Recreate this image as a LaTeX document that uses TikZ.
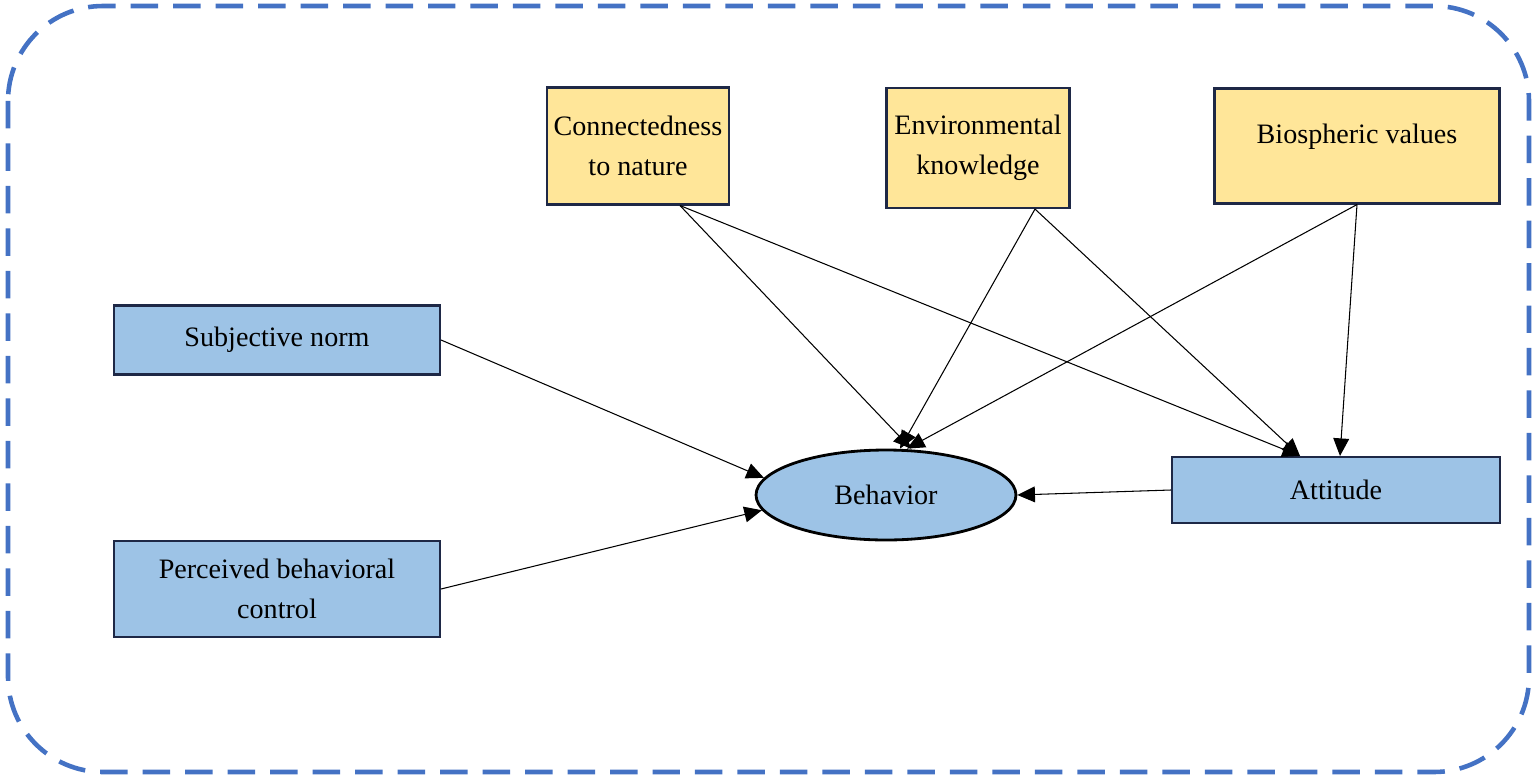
\documentclass[tikz,border=0pt]{standalone}
\usepackage{fontspec}
\setmainfont{Liberation Serif}
\usetikzlibrary{shapes.geometric,arrows.meta}
\definecolor{frameblue}{RGB}{68,114,196}
\definecolor{boxblue}{RGB}{157,195,230}
\definecolor{boxyellow}{RGB}{255,230,153}
\definecolor{edge}{RGB}{30,40,70}
\tikzstyle{ybox}=[fill=boxyellow, draw=edge, line width=1.2pt, shape=rectangle, align=center, font=\fontsize{16}{23}\selectfont]
\tikzstyle{bbox}=[fill=boxblue, draw=edge, line width=1.2pt, shape=rectangle, align=center, font=\fontsize{16}{23}\selectfont]
\tikzstyle{arr}=[-{Triangle[length=10pt,width=9pt]}, line width=0.6pt]

\begin{document}
\begin{tikzpicture}[x=0.02cm,y=-0.02cm]
		\useasboundingbox (0,0) rectangle (1535,778);
		\draw [frameblue, line width=2.6pt, dash pattern=on 0.55cm off 0.3cm, rounded corners=1.9cm] (8,6) rectangle (1529,772);

		\node [style=ybox, minimum width=3.64cm, minimum height=2.34cm] (conn) at (638,146) {Connectedness\\to nature};
		\node [style=ybox, minimum width=3.66cm, minimum height=2.4cm] (env) at (978,148) {Environmental\\knowledge};
		\node [style=ybox, minimum width=5.7cm, minimum height=2.3cm] (bio) at (1357,146) {Biospheric values\\[-0.3cm]\mbox{}};
		\node [style=bbox, minimum width=6.52cm, minimum height=1.38cm] (sub) at (277,340) {Subjective norm};
		\node [style=bbox, minimum width=6.52cm, minimum height=1.92cm] (pbc) at (277,589) {Perceived behavioral\\control};
		\node [style=bbox, minimum width=6.56cm, minimum height=1.32cm] (att) at (1336,490) {Attitude};
		\node [fill=boxblue, draw=black, line width=1.6pt, shape=ellipse, minimum width=5.2cm, minimum height=1.8cm, font=\fontsize{16}{21}\selectfont] (beh) at (886,495) {Behavior};

		\draw [style=arr] ([xshift=0.84cm]conn.south) to ([xshift=0.5cm]beh.north);
		\draw [style=arr] ([xshift=0.84cm]conn.south) to ([xshift=-0.72cm]att.north);
		\draw [style=arr] ([xshift=1.14cm]env.south) to ([xshift=0.28cm]beh.north);
		\draw [style=arr] ([xshift=1.14cm]env.south) to ([xshift=-0.72cm]att.north);
		\draw [style=arr] (bio.south) to ([xshift=0.42cm]beh.north);
		\draw [style=arr] (bio.south) to ([xshift=0.08cm]att.north);
		\draw [style=arr] (sub.east) to (beh.172);
		\draw [style=arr] (pbc.east) to (beh.187);
		\draw [style=arr] (att.west) to (beh.east);
	\end{tikzpicture}
\end{document}
